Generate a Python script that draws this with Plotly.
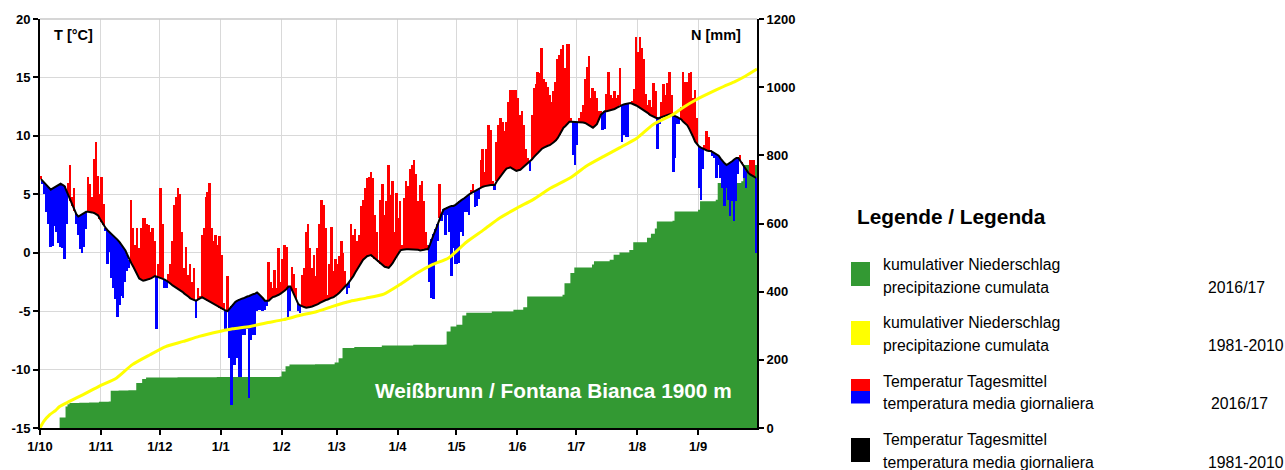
import plotly.graph_objects as go

# ---------------- data ----------------
month_labels = ["1/10", "1/11", "1/12", "1/1", "1/2", "1/3", "1/4", "1/5", "1/6", "1/7", "1/8", "1/9"]
month_lengths = [31, 30, 31, 31, 28, 31, 30, 31, 30, 31, 31, 30]
temp_ticks = [-15, -10, -5, 0, 5, 10, 15, 20]

# daily mean temperature 2016/17 (°C), Oct .. Sep
t_oct = [6.6, 5.9, 5.0, 3.5, 2.5, 0.5, 0.6, 2.3, 1.8, 0.8, 0.5, 0.4, -0.5, 2.5, 6.0, 7.5, 4.8, 5.5, 2.5, 1.5,
         0.3, 0.0, 0.5, 2.0, 6.5, 5.9, 4.8, 8.0, 9.5, 6.6, 5.0]
t_nov = [6.5, 4.2, 1.9, -1.0, 0.1, -2.2, -3.0, -4.0, -5.5, -4.5, -3.7, -3.9, -2.5, -1.6, -1.3, 4.5, 2.1, 0.7, 2.1, 0.4,
         2.1, 3.0, 3.0, 2.5, 2.4, 1.8, 2.1, 1.0, -6.5, -1.0]
t_dec = [5.5, 2.5, -3.0, -3.0, -1.8, -1.0, 1.0, 4.1, 4.8, 5.5, 5.0, 1.8, -1.3, 0.5, -1.9, -1.0, -2.5, -1.3, -5.6, -3.0,
         -3.7, 1.5, 2.1, 4.8, 5.2, 5.95, 2.1, 1.0, 1.5, 0.7, 1.4]
t_jan = [-0.2, -4.3, -6.5, -2.0, -9.0, -13.0, -9.6, -9.6, -9.0, -10.6, -10.6, -7.0, -7.0, -6.5, -12.4, -7.5, -7.0, -7.0,
         -5.0, -4.9, -4.9, -5.0, -4.9, -4.6, -0.8, -2.5, -3.0, -1.5, -3.0, 0.4, -2.5]
t_feb = [-0.5, 0.7, 0.5, -5.5, -5.0, -1.2, -1.8, -3.0, -5.0, -5.2, -1.9, -1.3, 1.8, 2.5, 0.4, -1.3, -0.2, -2.0, 0.4, 2.5,
         4.5, 4.1, 2.1, -3.6, -1.0, 2.2, -1.6, -0.5]
t_mar = [-1.0, -0.3, 1.0, 0.0, -1.6, -3.5, -3.0, 2.5, 1.5, 2.0, 1.0, 1.5, 4.0, 4.5, 5.5, 6.4, 6.5, 6.9, 6.4, 3.2,
         1.8, -0.6, 4.5, 5.9, 3.2, 4.4, 7.5, 4.9, 6.1, 1.8, 5.1]
t_apr = [2.95, 4.4, 0.7, 4.7, 6.1, 5.7, 7.2, 7.5, 7.9, 6.7, 4.4, 5.8, 6.1, 4.4, 1.8, 0.7, -2.5, -3.9, -4.0, -1.0,
         1.0, 5.9, 2.7, 3.2, 1.5, 3.2, 1.8, -2.0, 0.4, -1.0]
t_may = [-1.0, -0.9, 1.8, 1.4, 3.5, 3.5, 3.2, 5.4, 5.9, 3.95, 4.0, 4.6, 7.9, 8.9, 6.9, 8.9, 10.9, 10.5, 6.1, 5.4,
         9.5, 10.9, 11.5, 11.2, 10.4, 11.2, 12.9, 13.9, 13.9, 13.9, 13.9]
t_jun = [13.2, 11.8, 12.1, 10.9, 8.9, 8.1, 7.0, 11.8, 14.1, 14.4, 15.5, 15.4, 17.5, 14.9, 14.6, 14.2, 13.5, 12.9, 13.8,
         14.6, 16.6, 16.9, 17.4, 17.8, 15.8, 17.9, 17.9, 11.5, 8.4, 7.5]
t_jul = [9.2, 11.5, 12.0, 12.6, 14.9, 15.9, 16.8, 13.2, 14.1, 13.8, 13.2, 12.1, 12.1, 10.5, 10.6, 13.6, 15.5, 13.5, 13.2,
         13.8, 13.2, 13.5, 15.8, 9.5, 10.1, 9.9, 9.9, 12.8, 13.0, 14.0, 18.5]
t_aug = [17.2, 18.5, 17.5, 16.6, 13.6, 12.6, 13.1, 12.5, 14.5, 13.8, 8.9, 11.0, 12.9, 14.4, 13.5, 14.5, 15.5, 13.5, 6.9,
         8.1, 11.0, 11.0, 12.5, 15.5, 14.6, 14.6, 15.4, 15.5, 13.2, 13.9, 11.5]
t_sep = [5.5, 4.5, 7.2, 9.2, 10.4, 9.9, 8.8, 8.3, 8.1, 6.4, 7.5, 6.4, 5.5, 4.0, 5.5, 4.5, 3.1, 4.4, 2.7, 4.4,
         6.7, 8.4, 7.8, 6.4, 5.5, 6.9, 7.9, 7.9, 7.9, 0.0]

# daily mean temperature 1981-2010 (°C)
c_oct = [6.3, 6.1, 6.0, 5.8, 5.6, 5.4, 5.5, 5.6, 5.7, 5.8, 5.9, 5.8, 5.7, 5.3, 4.9, 4.4, 4.0, 3.6, 3.3, 3.1,
         3.2, 3.3, 3.4, 3.5, 3.5, 3.5, 3.45, 3.4, 3.3, 3.2, 2.9]
c_nov = [2.6, 2.35, 2.1, 1.9, 1.75, 1.6, 1.4, 1.25, 1.1, 0.9, 0.65, 0.45, 0.2, -0.2, -0.6, -0.9, -1.2, -1.5, -1.85, -2.2,
         -2.3, -2.4, -2.35, -2.3, -2.3, -2.2, -2.1, -2.0, -2.05, -2.1]
c_dec = [-2.15, -2.2, -2.3, -2.4, -2.5, -2.65, -2.8, -2.9, -3.0, -3.1, -3.2, -3.35, -3.5, -3.6, -3.75, -3.9, -4.0, -4.05,
         -4.1, -4.0, -3.9, -3.8, -3.9, -4.0, -4.1, -4.2, -4.3, -4.4, -4.5, -4.6, -4.7]
c_jan = [-4.8, -4.9, -4.95, -5.0, -4.8, -4.6, -4.4, -4.2, -4.1, -4.0, -3.95, -3.9, -3.8, -3.75, -3.7, -3.6, -3.55, -3.5,
         -3.4, -3.55, -3.7, -3.9, -4.1, -4.1, -4.1, -3.95, -3.8, -3.75, -3.7, -3.6, -3.5]
c_feb = [-3.4, -3.25, -3.1, -2.9, -2.9, -3.25, -3.6, -4.0, -4.4, -4.5, -4.6, -4.65, -4.7, -4.7, -4.65, -4.6, -4.55, -4.5,
         -4.4, -4.3, -4.2, -4.1, -4.05, -4.0, -3.9, -3.85, -3.8, -3.7]
c_mar = [-3.55, -3.4, -3.2, -3.0, -2.85, -2.7, -2.5, -2.3, -2.0, -1.7, -1.4, -1.1, -0.85, -0.6, -0.45, -0.3, -0.25, -0.2,
         -0.35, -0.5, -0.65, -0.8, -0.95, -1.05, -1.2, -1.25, -1.3, -1.1, -0.9, -0.6, -0.3]
c_apr = [0.0, 0.2, 0.25, 0.3, 0.3, 0.3, 0.3, 0.3, 0.3, 0.25, 0.25, 0.2, 0.2, 0.25, 0.3, 0.3, 0.7, 1.2, 1.6, 2.0,
         2.5, 3.0, 3.35, 3.7, 3.8, 3.9, 3.95, 4.0, 4.0, 4.1]
c_may = [4.25, 4.4, 4.5, 4.6, 4.75, 4.85, 5.0, 5.1, 5.2, 5.3, 5.4, 5.5, 5.6, 5.65, 5.7, 5.75, 5.8, 5.8, 5.8, 5.8,
         6.1, 6.35, 6.6, 6.8, 7.0, 7.2, 7.25, 7.3, 7.2, 7.1, 7.0]
c_jun = [7.05, 7.1, 7.25, 7.4, 7.5, 7.65, 7.8, 8.0, 8.2, 8.4, 8.6, 8.75, 8.9, 9.0, 9.1, 9.15, 9.2, 9.3, 9.45, 9.6,
         9.8, 10.1, 10.4, 10.7, 10.85, 11.0, 11.2, 11.2, 11.2, 11.2]
c_jul = [11.2, 11.2, 11.2, 11.15, 11.1, 11.0, 10.9, 10.8, 10.7, 10.85, 11.0, 11.4, 11.8, 11.95, 12.1, 12.1, 12.15, 12.2,
         12.2, 12.3, 12.4, 12.5, 12.6, 12.65, 12.7, 12.75, 12.8, 12.8, 12.75, 12.7, 12.6]
c_aug = [12.5, 12.4, 12.3, 12.2, 12.1, 11.95, 11.8, 11.7, 11.6, 11.55, 11.5, 11.55, 11.6, 11.7, 11.75, 11.8, 11.85, 11.8,
         11.75, 11.7, 11.6, 11.5, 11.4, 11.2, 11.05, 10.9, 10.6, 10.3, 9.9, 9.5, 9.3]
c_sep = [9.1, 9.0, 8.9, 8.8, 8.75, 8.7, 8.7, 8.6, 8.5, 8.4, 8.3, 8.05, 7.8, 7.65, 7.5, 7.6, 7.7, 7.85, 8.0, 8.1,
         8.1, 7.85, 7.6, 7.3, 7.0, 6.85, 6.7, 6.6, 6.5, 6.4]

# cumulative precipitation 2016/17 (mm) at the days where it changes
precip_day = [0, 10, 13, 14, 15, 20, 25, 30, 35, 36, 40, 45, 49, 52, 54, 70, 90, 122, 123, 125,
              127, 140, 150, 152, 154, 160, 174, 190, 206, 207, 209, 212, 215, 217, 230, 241, 246, 248, 266, 267,
              270, 272, 281, 282, 290, 292, 295, 300, 302, 309, 311, 313, 314, 322, 323, 335, 336, 344, 345, 357,
              358, 365]
precip_mm = [0, 31, 63, 70, 73, 74, 75, 77, 78, 109, 110, 111, 132, 144, 148, 149, 150, 151, 166, 181,
             186, 187, 192, 205, 235, 238, 242, 244, 245, 283, 298, 303, 330, 338, 342, 347, 354, 386, 391, 425,
             455, 471, 480, 489, 494, 508, 515, 522, 545, 558, 570, 585, 606, 608, 635, 640, 665, 670, 719, 724,
             772, 775]

# cumulative precipitation 1981-2010 (mm)
clim_precip_day = [0, 2, 5, 8, 10, 15, 22, 30, 39, 47, 56, 64, 73, 81, 92, 98, 107, 115, 124, 132,
                   141, 149, 158, 166, 175, 183, 192, 200, 208, 217, 226, 234, 243, 251, 260, 270, 278, 287, 295, 304,
                   312, 322, 327, 334, 341, 348, 354, 359, 365]
clim_precip_mm = [0, 20, 39, 52, 63, 78, 98, 122, 147, 186, 215, 239, 254, 269, 284, 291, 298, 308, 318, 330,
                  342, 357, 372, 381, 393, 420, 455, 480, 499, 545, 582, 616, 646, 670, 704, 734, 768, 797, 822, 851,
                  890, 919, 939, 963, 983, 1002, 1017, 1032, 1053]

t_mean = t_oct + t_nov + t_dec + t_jan + t_feb + t_mar + t_apr + t_may + t_jun + t_jul + t_aug + t_sep
t_clim = c_oct + c_nov + c_dec + c_jan + c_feb + c_mar + c_apr + c_may + c_jun + c_jul + c_aug + c_sep

# ---------------- derived ----------------
day = list(range(len(t_mean)))
bar_x = [d + 0.5 for d in day]
anom = [t - c for t, c in zip(t_mean, t_clim)]
bar_colors = ["#ff0000" if a >= 0 else "#0000ff" for a in anom]
month_start = [sum(month_lengths[:i]) for i in range(len(month_lengths))]
n_days = sum(month_lengths)

FONT = "Liberation Sans, Arial, sans-serif"
W, H = 1285, 470
L, R, T, B = 40, 528, 19, 42
PW, PH = W - L - R, H - T - B


def px(x):
    return (x - L) / PW


def py(y):
    return (H - B - y) / PH


fig = go.Figure()
fig.add_trace(go.Scatter(x=precip_day, y=precip_mm, mode="lines",
                         line=dict(width=0, shape="hv"), fill="tozeroy",
                         fillcolor="#339933", yaxis="y", hoverinfo="skip"))
fig.add_trace(go.Bar(x=bar_x, y=anom, base=t_clim, width=1,
                     marker=dict(color=bar_colors, line=dict(width=0)),
                     yaxis="y2"))
fig.add_trace(go.Scatter(x=bar_x, y=t_clim, mode="lines",
                         line=dict(color="#000000", width=2), yaxis="y2"))
fig.add_trace(go.Scatter(x=clim_precip_day, y=clim_precip_mm, mode="lines",
                         line=dict(color="#ffff00", width=3, shape="spline", smoothing=0.6),
                         yaxis="y3"))

tickfont = dict(family=FONT, size=13, color="#000000", weight="bold")
grid = "#d9d9d9"

fig.update_layout(
    width=W, height=H,
    margin=dict(l=L, r=R, t=T, b=B, autoexpand=False),
    paper_bgcolor="white", plot_bgcolor="white",
    showlegend=False, bargap=0,
    xaxis=dict(range=[0, n_days], tickmode="array", tickvals=month_start, ticktext=month_labels,
               ticks="outside", ticklen=5, tickwidth=1.5, tickcolor="#000000",
               showline=True, linecolor="#000000", linewidth=2,
               showgrid=True, gridcolor=grid, gridwidth=1, zeroline=False,
               tickfont=tickfont, automargin=False),
    yaxis=dict(range=[0, 1200], dtick=200, side="right",
               ticks="outside", ticklen=5, tickwidth=1.5, tickcolor="#000000",
               showline=True, linecolor="#000000", linewidth=2,
               showgrid=False, zeroline=False, tickfont=tickfont, automargin=False),
    yaxis2=dict(range=[-15, 20], tickmode="array", tickvals=temp_ticks,
                ticktext=[str(v) for v in temp_ticks], side="left", overlaying="y",
                ticks="outside", ticklen=5, tickwidth=1.5, tickcolor="#000000",
                showline=True, linecolor="#000000", linewidth=2,
                showgrid=True, gridcolor=grid, gridwidth=1, zeroline=False,
                tickfont=tickfont, automargin=False),
    yaxis3=dict(range=[0, 1200], overlaying="y", visible=False),
)

shapes = [
    dict(type="line", xref="paper", yref="paper", x0=0, x1=1, y0=1, y1=1,
         line=dict(color="#c8c8c8", width=1.5)),
    dict(type="rect", xref="paper", yref="paper", x0=px(851), x1=px(870), y0=py(286), y1=py(262),
         fillcolor="#339933", line=dict(width=0)),
    dict(type="rect", xref="paper", yref="paper", x0=px(851), x1=px(870), y0=py(345), y1=py(321),
         fillcolor="#ffff00", line=dict(width=0)),
    dict(type="rect", xref="paper", yref="paper", x0=px(851), x1=px(870), y0=py(391), y1=py(379),
         fillcolor="#ff0000", line=dict(width=0)),
    dict(type="rect", xref="paper", yref="paper", x0=px(851), x1=px(870), y0=py(403.5), y1=py(391),
         fillcolor="#0000ff", line=dict(width=0)),
    dict(type="rect", xref="paper", yref="paper", x0=px(851), x1=px(870), y0=py(462), y1=py(438),
         fillcolor="#000000", line=dict(width=0)),
]
fig.update_layout(shapes=shapes)


def ann(text, x, y, size, bold=False, color="#000000", xanchor="left"):
    return dict(text=text, x=px(x), y=py(y), xref="paper", yref="paper",
                xanchor=xanchor, yanchor="middle", showarrow=False,
                font=dict(family=FONT, size=size, color=color, weight="bold" if bold else "normal"))


annotations = [
    ann("T [°C]", 52, 35, 14.5, bold=True),
    ann("N [mm]", 743, 35, 14.5, bold=True, xanchor="right"),
    ann("Weißbrunn / Fontana Bianca 1900 m", 734, 390, 20.8, bold=True, color="#ffffff", xanchor="right"),
    ann("Legende / Legenda", 855, 216, 20.8, bold=True),
    ann("kumulativer Niederschlag", 881, 264, 15.8),
    ann("precipitazione cumulata", 881, 287, 15.8),
    ann("2016/17", 1206, 287, 15.8),
    ann("kumulativer Niederschlag", 881, 322, 15.8),
    ann("precipitazione cumulata", 881, 345, 15.8),
    ann("1981-2010", 1206, 345, 15.8),
    ann("Temperatur Tagesmittel", 881, 381, 15.8),
    ann("temperatura media giornaliera", 881, 403.5, 15.8),
    ann("2016/17", 1209, 403.5, 15.8),
    ann("Temperatur Tagesmittel", 881, 439, 15.8),
    ann("temperatura media giornaliera", 881, 462, 15.8),
    ann("1981-2010", 1206, 462, 15.8),
]
fig.update_layout(annotations=annotations)

fig.write_html("out.html",
               config={"displayModeBar": False},
               post_script="document.body.style.margin='0';document.body.style.padding='0';"
                           "document.body.style.overflow='hidden';")
